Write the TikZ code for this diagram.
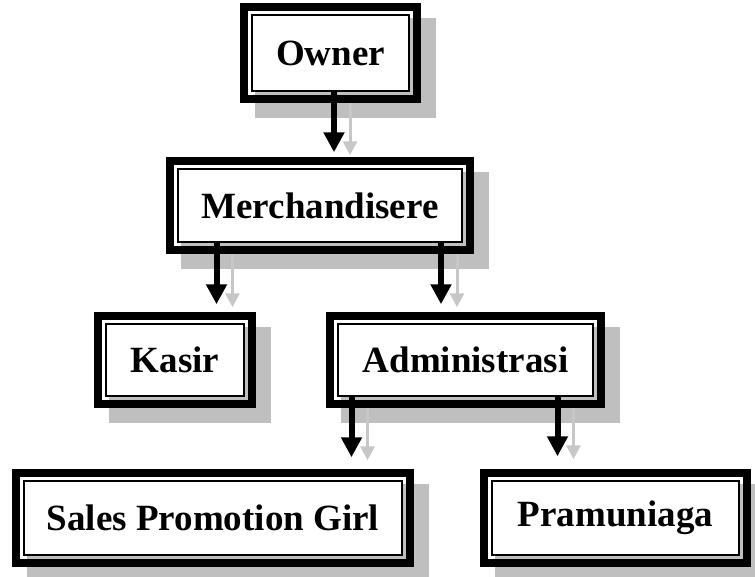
\documentclass[tikz,border=0pt]{standalone}
\usepackage{fontspec}
\setmainfont{Liberation Serif}
\usetikzlibrary{arrows.meta, backgrounds}

\tikzset{
  unit/.style={draw, line width=1.5pt, fill=white, inner sep=0pt,
    font=\fontsize{37}{40}\selectfont\bfseries},
  frame/.style={line width=8pt},
  shade/.style={fill=black!25},
  link/.style={line width=6pt, -{Triangle[length=20pt,width=20pt]}},
  linkshade/.style={black!22, line width=3pt,
    -{Triangle[length=14pt,width=14pt]}, transform canvas={xshift=16pt, yshift=-3pt}}
}

\begin{document}
\begin{tikzpicture}[x=1pt, y=-1pt]

\useasboundingbox (0,0) rectangle (755,576);

% the boxes
\node (own) at (330.5,53) [unit, minimum width=157pt, minimum height=76pt] {Owner};
\node (mer) at (320,205.5) [unit, minimum width=284pt, minimum height=73pt] {Merchandisere};
\node (kas) at (175,360) [unit, minimum width=138pt, minimum height=72pt] {Kasir};
\node (adm) at (465.5,360) [unit, minimum width=255pt, minimum height=72pt] {Administrasi};
\node (spg) at (213,518) [unit, minimum width=378pt, minimum height=74pt] {Sales Promotion Girl};
\node (pra) at (615.5,518) [unit, minimum width=247pt, minimum height=74pt] {Pramuniaga};

% thick outer frames
\draw [frame] ([xshift=-7pt,yshift=7pt]own.north west) rectangle ([xshift=7pt,yshift=-7pt]own.south east);
\draw [frame] ([xshift=-7pt,yshift=7pt]mer.north west) rectangle ([xshift=7pt,yshift=-7pt]mer.south east);
\draw [frame] ([xshift=-7pt,yshift=7pt]kas.north west) rectangle ([xshift=7pt,yshift=-7pt]kas.south east);
\draw [frame] ([xshift=-7pt,yshift=7pt]adm.north west) rectangle ([xshift=7pt,yshift=-7pt]adm.south east);
\draw [frame] ([xshift=-7pt,yshift=7pt]spg.north west) rectangle ([xshift=7pt,yshift=-7pt]spg.south east);
\draw [frame] ([xshift=-7pt,yshift=7pt]pra.north west) rectangle ([xshift=7pt,yshift=-7pt]pra.south east);

% shadows
\begin{scope}[on background layer]
\fill [shade] ([xshift=4pt,yshift=-4pt]own.north west) rectangle ([xshift=26pt,yshift=-26pt]own.south east);
\fill [shade] ([xshift=4pt,yshift=-4pt]mer.north west) rectangle ([xshift=26pt,yshift=-26pt]mer.south east);
\fill [shade] ([xshift=4pt,yshift=-4pt]kas.north west) rectangle ([xshift=26pt,yshift=-26pt]kas.south east);
\fill [shade] ([xshift=4pt,yshift=-4pt]adm.north west) rectangle ([xshift=26pt,yshift=-26pt]adm.south east);
\fill [shade] ([xshift=4pt,yshift=-4pt]spg.north west) rectangle ([xshift=26pt,yshift=-26pt]spg.south east);
\fill [shade] ([xshift=4pt,yshift=-4pt]pra.north west) rectangle ([xshift=26pt,yshift=-26pt]pra.south east);

\draw [linkshade, shorten >=16pt] ([xshift=3.5pt]own.south) -- ([xshift=3.5pt]own.south |- mer.north);
\draw [linkshade, shorten >=19pt] ([xshift=-103.5pt]mer.south) -- ([xshift=-103.5pt]mer.south |- kas.north);
\draw [linkshade, shorten >=19pt] ([xshift=121pt]mer.south) -- ([xshift=121pt]mer.south |- adm.north);
\draw [linkshade, shorten >=23pt] ([xshift=-114pt]adm.south) -- ([xshift=-114pt]adm.south |- spg.north);
\draw [linkshade, shorten >=24pt] ([xshift=92pt]adm.south) -- ([xshift=92pt]adm.south |- pra.north);
\end{scope}

% arrows
\draw [link, shorten >=16pt] ([xshift=3.5pt]own.south) -- ([xshift=3.5pt]own.south |- mer.north);
\draw [link, shorten >=19pt] ([xshift=-103.5pt]mer.south) -- ([xshift=-103.5pt]mer.south |- kas.north);
\draw [link, shorten >=19pt] ([xshift=121pt]mer.south) -- ([xshift=121pt]mer.south |- adm.north);
\draw [link, shorten >=23pt] ([xshift=-114pt]adm.south) -- ([xshift=-114pt]adm.south |- spg.north);
\draw [link, shorten >=24pt] ([xshift=92pt]adm.south) -- ([xshift=92pt]adm.south |- pra.north);

\end{tikzpicture}
\end{document}
